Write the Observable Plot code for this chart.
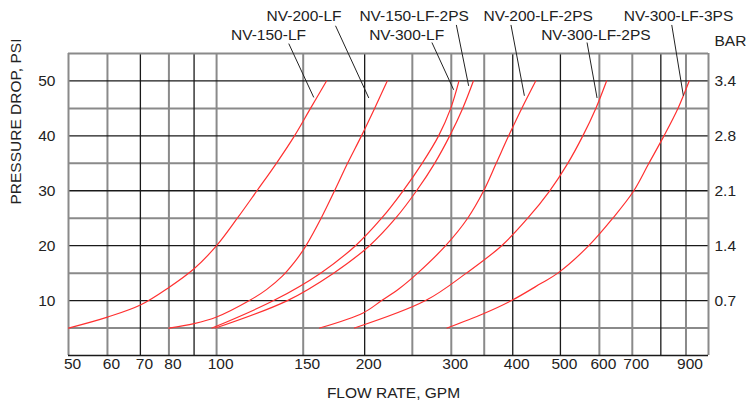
<!DOCTYPE html>
<html><head><meta charset="utf-8">
<script src="https://cdn.jsdelivr.net/npm/d3@7"></script>
<script src="https://cdn.jsdelivr.net/npm/@observablehq/plot@0.6"></script>
<style>
html,body{margin:0;padding:0;background:#fff;}
#chart svg{display:block;}
</style></head><body><div id="chart"></div>
<script>
// Series: [flow GPM, pressure drop PSI]
const nv150lf      = [[50,5],[60,7],[70,9.2],[80,12.4],[90,15.8],[100,20],[110.2,25],[120.8,30],[132.3,35],[144,40],[155.2,45],[167.3,50]];
const nv200lf      = [[80,5],[90,5.8],[100,7],[116.6,10],[126.3,12],[136.2,14.5],[144,17],[149.5,19],[152,20],[163.1,25],[173.7,30],[184.6,35],[197,40],[209.5,45],[222.3,50]];
const nv300lf      = [[97.9,5],[130.6,10],[162.7,15],[191.6,20],[216.5,25],[239.4,30],[261.7,35],[282.7,40],[299.2,45],[311,50]];
const nv150lf2ps   = [[99.5,5],[139.3,10],[172.9,15],[204.6,20],[231.2,25],[255,30],[277.5,35],[297.8,40],[316.4,45],[332.7,50]];
const nv200lf2ps   = [[162,5],[198.5,7.75],[216.5,10],[235.3,12.2],[256.3,15],[292.2,20],[323.9,25],[349.1,30],[370.2,35],[392.4,40],[417.2,45],[445.4,50]];
const nv300lf2ps   = [[190.7,5],[266,10],[321.9,15],[379.8,20],[429,25],[475.6,30],[517.5,35],[555.3,40],[590.1,45],[620.6,50]];
const nv300lf3ps   = [[294.2,5],[348.6,7.6],[397.6,10],[456,13.1],[493.9,15],[571,20],[639,25],[705,30],[756.5,35],[811.8,40],[866.7,45],[913.6,50]];

const seriesNames = ["NV-150-LF","NV-200-LF","NV-300-LF","NV-150-LF-2PS","NV-200-LF-2PS","NV-300-LF-2PS","NV-300-LF-3PS"];
const seriesData  = [nv150lf, nv200lf, nv300lf, nv150lf2ps, nv200lf2ps, nv300lf2ps, nv300lf3ps];

// Callout labels: label centre (flow, psi) and leader line from (flow, psi) to (flow, psi)
const labelX      = [127.5, 150.6, 243.4, 252.1, 450.6, 590.2, 869.3];
const labelY      = [58.4, 61.9, 58.4, 61.9, 61.9, 58.4, 61.9];
const leaderX1    = [140.2, 174.5, 274.0, 307.2, 396.7, 566.4, 842.0];
const leaderY1    = [56.8, 60.05, 57.0, 60.2, 60.2, 57.0, 60.2];
const leaderX2    = [157.6, 203.9, 303.3, 325.4, 422.4, 593.6, 889.0];
const leaderY2    = [47.0, 46.9, 48.4, 49.1, 47.3, 46.9, 47.3];

// Axes
const xTicks = [50,60,70,80,100,150,200,300,400,500,600,700,900];
const yTicks = [10,20,30,40,50];
const barLabels = ["0.7","1.4","2.1","2.8","3.4"];
const xGridDark  = [70,90,200,400,500,800];
const xGridLight = [60,80,100,150,250,300,350,600,700,900];
const yGridDark  = [10,20,30,40,50];
const yGridLight = [5,15,25,35,45];
const xDomain = [50,1000];
const yDomain = [0,55];

const curveRows = seriesNames.flatMap((name,i) => seriesData[i].map(([flow,psi]) => ({series:name, flow, psi})));
const labelRows = seriesNames.map((name,i) => ({name, lx:labelX[i], ly:labelY[i], x1:leaderX1[i], y1:leaderY1[i], x2:leaderX2[i], y2:leaderY2[i]}));

const FONT = "'Liberation Sans', Arial, Helvetica, sans-serif";
const TXT = "#222";
const GREY = "#8a8a8a";
const DARK = "#1a1a1a";

const chart = Plot.plot({
  width: 746,
  height: 411,
  marginLeft: 68,
  marginRight: 38,
  marginTop: 53,
  marginBottom: 56,
  style: {fontFamily: FONT, fontSize: "15.5px", color: TXT, background: "#fff"},
  x: {type: "log", domain: xDomain, axis: null},
  y: {domain: yDomain, axis: null},
  marks: [
    Plot.ruleY(yGridLight, {stroke: GREY, strokeWidth: 2}),
    Plot.ruleX(xGridLight, {stroke: GREY, strokeWidth: 2}),
    Plot.ruleX(xGridDark, {stroke: DARK, strokeWidth: 1.3}),
    Plot.ruleY(yGridDark, {stroke: DARK, strokeWidth: 1.3}),
    Plot.ruleX(xDomain, {stroke: GREY, strokeWidth: 2}),
    Plot.ruleY([yDomain[1]], {stroke: GREY, strokeWidth: 2}),
    Plot.ruleY([yDomain[0]], {stroke: DARK, strokeWidth: 1.5}),
    Plot.line(curveRows, {x: "flow", y: "psi", z: "series", stroke: "#ff3030", strokeWidth: 1.2, curve: "catmull-rom"}),
    Plot.link(labelRows, {x1: "x1", y1: "y1", x2: "x2", y2: "y2", stroke: "#222", strokeWidth: 1}),
    Plot.text(labelRows, {x: "lx", y: "ly", text: "name", fill: TXT, fontSize: 15.5}),
    Plot.text(["BAR"], {frameAnchor: "top-right", text: d => d, textAnchor: "start", dx: 6, dy: -19, fill: TXT, fontSize: 15.5}),
    // x tick labels
    Plot.text(xTicks, {x: d => d, frameAnchor: "bottom", text: d => String(d), dy: 13, dx: 4, fill: TXT, fontSize: 15.5}),
    // left y tick labels (PSI)
    Plot.text(yTicks, {y: d => d, frameAnchor: "left", text: d => String(d), textAnchor: "end", dx: -13, fill: TXT, fontSize: 15.5}),
    // right y tick labels (BAR)
    Plot.text(yTicks, {y: d => d, frameAnchor: "right", text: (d, i) => barLabels[i], textAnchor: "start", dx: 6, fill: TXT, fontSize: 15.5}),
    Plot.text(["FLOW RATE, GPM"], {frameAnchor: "bottom", text: d => d, dy: 42, dx: 5, fill: TXT, fontSize: 15.5}),
    Plot.text(["PRESSURE DROP, PSI"], {frameAnchor: "left", text: d => d, rotate: -90, dx: -52, fill: TXT, fontSize: 15.5})
  ]
});
document.getElementById("chart").appendChild(chart);
</script>
</body></html>
